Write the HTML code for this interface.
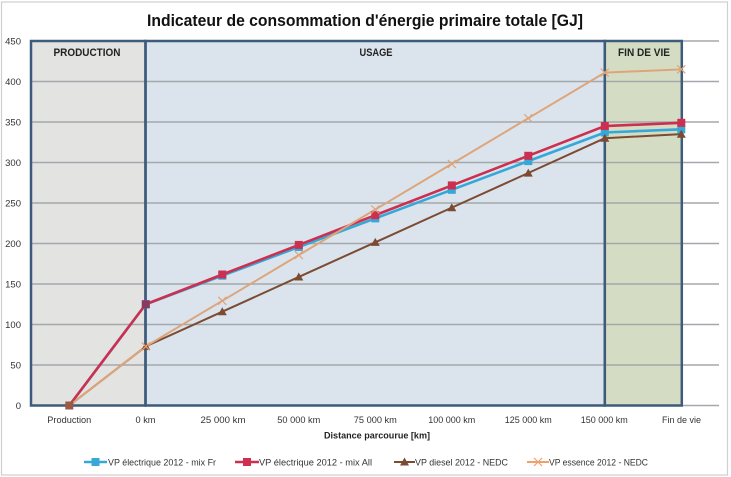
<!DOCTYPE html>
<html><head><meta charset="utf-8"><style>
html,body{margin:0;padding:0;background:#fff;}
svg{display:block;}
text{font-family:"Liberation Sans",sans-serif;}
</style></head><body>
<svg width="731" height="477" viewBox="0 0 731 477" xmlns="http://www.w3.org/2000/svg">
<rect x="0" y="0" width="731" height="477" fill="#fff"/>
<rect x="1.5" y="2" width="726" height="473" fill="#fff" stroke="#cfcfcf" stroke-width="1.2"/>
<!-- title -->
<text x="147" y="26" font-size="17" font-weight="bold" fill="#111" textLength="436" lengthAdjust="spacingAndGlyphs">Indicateur de consommation d'énergie primaire totale [GJ]</text>
<!-- region fills -->
<rect x="31" y="41" width="114.5" height="364.5" fill="#e3e3e2"/>
<rect x="145.5" y="41" width="459.3" height="364.5" fill="#dbe4ec"/>
<rect x="604.8" y="41" width="77" height="364.5" fill="#d4ddc4"/>
<!-- gridlines -->
<g stroke="#a4a8ac" stroke-width="1.5">
<line x1="31" y1="41" x2="719" y2="41"/>
<line x1="31" y1="81.5" x2="719" y2="81.5"/>
<line x1="31" y1="122" x2="719" y2="122"/>
<line x1="31" y1="162.5" x2="719" y2="162.5"/>
<line x1="31" y1="203" x2="719" y2="203"/>
<line x1="31" y1="243.5" x2="719" y2="243.5"/>
<line x1="31" y1="284" x2="719" y2="284"/>
<line x1="31" y1="324.5" x2="719" y2="324.5"/>
<line x1="31" y1="365" x2="719" y2="365"/>
<line x1="31" y1="405.5" x2="719" y2="405.5"/>
</g>
<!-- region borders -->
<g fill="none" stroke="#3d5b7a" stroke-width="2.5">
<rect x="31" y="41" width="114.5" height="364.5"/>
<rect x="145.5" y="41" width="459.3" height="364.5"/>
<rect x="604.8" y="41" width="77" height="364.5"/>
</g>
<!-- region labels -->
<g font-size="11" font-weight="bold" fill="#222" text-anchor="middle">
<text x="87" y="56" textLength="67" lengthAdjust="spacingAndGlyphs">PRODUCTION</text>
<text x="376" y="56" textLength="33" lengthAdjust="spacingAndGlyphs">USAGE</text>
<text x="644" y="56" textLength="52" lengthAdjust="spacingAndGlyphs">FIN DE VIE</text>
</g>
<!-- y tick labels -->
<g font-size="9.5" fill="#333" text-anchor="end">
<text x="21" y="44.5">450</text>
<text x="21" y="85">400</text>
<text x="21" y="125.5">350</text>
<text x="21" y="166">300</text>
<text x="21" y="206.5">250</text>
<text x="21" y="247">200</text>
<text x="21" y="287.5">150</text>
<text x="21" y="328">100</text>
<text x="21" y="368.5">50</text>
<text x="21" y="409">0</text>
</g>
<!-- x tick labels -->
<g font-size="9.5" fill="#333" text-anchor="middle">
<text x="69.3" y="423" textLength="44" lengthAdjust="spacingAndGlyphs">Production</text>
<text x="145.5" y="423" textLength="20" lengthAdjust="spacingAndGlyphs">0 km</text>
<text x="223" y="423" textLength="45" lengthAdjust="spacingAndGlyphs">25 000 km</text>
<text x="298.8" y="423" textLength="43" lengthAdjust="spacingAndGlyphs">50 000 km</text>
<text x="375.3" y="423" textLength="43" lengthAdjust="spacingAndGlyphs">75 000 km</text>
<text x="451.8" y="423" textLength="47" lengthAdjust="spacingAndGlyphs">100 000 km</text>
<text x="528.3" y="423" textLength="47" lengthAdjust="spacingAndGlyphs">125 000 km</text>
<text x="604.3" y="423" textLength="47" lengthAdjust="spacingAndGlyphs">150 000 km</text>
<text x="681.5" y="423" textLength="39" lengthAdjust="spacingAndGlyphs">Fin de vie</text>
</g>
<text x="377" y="438.5" font-size="9.5" font-weight="bold" fill="#222" text-anchor="middle" textLength="106" lengthAdjust="spacingAndGlyphs">Distance parcourue [km]</text>
<!-- series -->
<g fill="none" stroke-linejoin="round">
<polyline stroke="#36a8d8" stroke-width="2.6" points="69.3,405.5 145.8,304.25 222.3,275.7 298.8,247 375.3,218.4 451.8,189.8 528.3,161.1 604.8,132.5 681.3,129.3"/>
<polyline stroke="#cc2f50" stroke-width="2.6" points="69.3,405.5 145.8,304.25 222.3,274.5 298.8,244.9 375.3,215.15 451.8,185.4 528.3,155.8 604.8,126.05 681.3,122.8"/>
<polyline stroke="#7b4b32" stroke-width="2" points="69.3,405.5 145.8,346.4 222.3,311.7 298.8,276.95 375.3,242.3 451.8,207.6 528.3,173 604.8,138.2 681.3,134.15"/>
<polyline stroke="#dea47a" stroke-width="2" points="69.3,405.5 145.8,346.4 222.3,300.8 298.8,255.1 375.3,209.5 451.8,163.9 528.3,118.2 604.8,72.6 681.3,69.35"/>
</g>
<!-- markers cyan -->
<g fill="#36a8d8">
<rect x="141.8" y="300.25" width="8" height="8"/>
<rect x="218.3" y="271.7" width="8" height="8"/>
<rect x="294.8" y="243" width="8" height="8"/>
<rect x="371.3" y="214.4" width="8" height="8"/>
<rect x="447.8" y="185.8" width="8" height="8"/>
<rect x="524.3" y="157.1" width="8" height="8"/>
<rect x="600.8" y="128.5" width="8" height="8"/>
<rect x="677.3" y="125.3" width="8" height="8"/>
</g>
<!-- markers red -->
<g fill="#cc2f50">
<rect x="141.8" y="300.25" width="8" height="8" fill="#8a3a5e"/>
<rect x="218.3" y="270.5" width="8" height="8"/>
<rect x="294.8" y="240.9" width="8" height="8"/>
<rect x="371.3" y="211.15" width="8" height="8"/>
<rect x="447.8" y="181.4" width="8" height="8"/>
<rect x="524.3" y="151.8" width="8" height="8"/>
<rect x="600.8" y="122.05" width="8" height="8"/>
<rect x="677.3" y="118.8" width="8" height="8"/>
</g>
<!-- markers brown -->
<g fill="#7b4b32">
<polygon points="145.8,342 150.3,350 141.3,350"/>
<polygon points="222.3,307.3 226.8,315.3 217.8,315.3"/>
<polygon points="298.8,272.5 303.3,280.5 294.3,280.5"/>
<polygon points="375.3,237.9 379.8,245.9 370.8,245.9"/>
<polygon points="451.8,203.2 456.3,211.2 447.3,211.2"/>
<polygon points="528.3,168.6 532.8,176.6 523.8,176.6"/>
<polygon points="604.8,133.8 609.3,141.8 600.3,141.8"/>
<polygon points="681.3,129.8 685.8,137.8 676.8,137.8"/>
</g>
<!-- markers essence (x) -->
<g stroke="#dea47a" stroke-width="1.2">
<path d="M141.8,342.4l8,8M149.8,342.4l-8,8"/>
<path d="M218.3,296.8l8,8M226.3,296.8l-8,8"/>
<path d="M294.8,251.1l8,8M302.8,251.1l-8,8"/>
<path d="M371.3,205.5l8,8M379.3,205.5l-8,8"/>
<path d="M447.8,159.9l8,8M455.8,159.9l-8,8"/>
<path d="M524.3,114.2l8,8M532.3,114.2l-8,8"/>
<path d="M600.8,68.6l8,8M608.8,68.6l-8,8"/>
<path d="M677.3,65.35l8,8M685.3,65.35l-8,8"/>
</g>
<!-- production marker -->
<rect x="65.3" y="401.5" width="8" height="8" fill="#9a5a45"/>
<!-- legend -->
<g>
<line x1="84" y1="462" x2="107" y2="462" stroke="#36a8d8" stroke-width="2.6"/>
<rect x="91.5" y="458" width="8" height="8" fill="#36a8d8"/>
<line x1="235" y1="462" x2="259" y2="462" stroke="#cc2f50" stroke-width="2.6"/>
<rect x="243" y="458" width="8" height="8" fill="#cc2f50"/>
<line x1="394" y1="462" x2="415" y2="462" stroke="#7b4b32" stroke-width="2"/>
<polygon points="404.5,457.5 409,465.5 400,465.5" fill="#7b4b32"/>
<line x1="527" y1="462" x2="549" y2="462" stroke="#f0a06a" stroke-width="2"/>
<path d="M534,458l8,8M542,458l-8,8" stroke="#f0a06a" stroke-width="1.2"/>
</g>
<g font-size="9.5" fill="#333">
<text x="108" y="465.5" textLength="108" lengthAdjust="spacingAndGlyphs">VP électrique 2012 - mix Fr</text>
<text x="259" y="465.5" textLength="113" lengthAdjust="spacingAndGlyphs">VP électrique 2012 - mix All</text>
<text x="415" y="465.5" textLength="93" lengthAdjust="spacingAndGlyphs">VP diesel 2012 - NEDC</text>
<text x="549" y="465.5" textLength="99" lengthAdjust="spacingAndGlyphs">VP essence 2012 - NEDC</text>
</g>
</svg>
</body></html>
